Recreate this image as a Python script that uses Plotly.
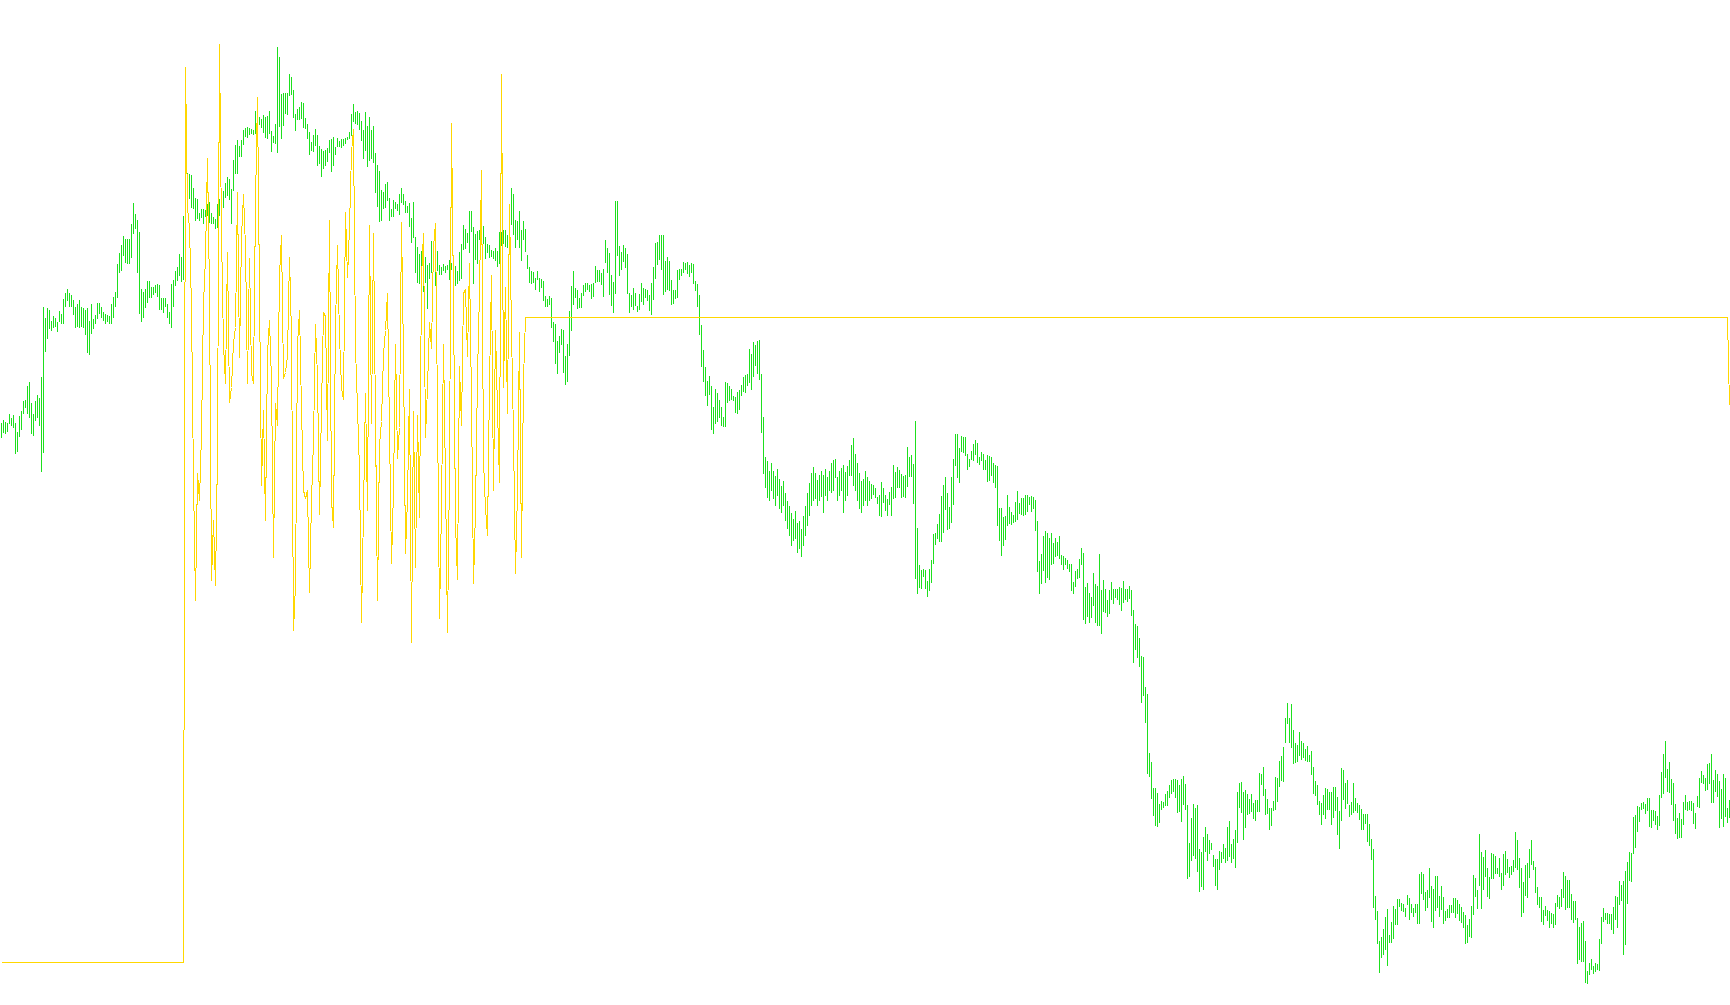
import plotly.graph_objects as go

# Bar highs / lows (arbitrary price units), one entry per bar, left to right
HIGH = [
578,581,579,578,587,583,586,578,569,585,
590,600,601,615,619,598,587,600,606,603,
624,694,683,693,691,680,685,683,679,690,
687,702,708,712,708,706,701,694,697,701,
694,693,691,693,680,697,682,686,698,698,
694,689,687,686,685,697,704,709,737,748,
756,765,762,762,762,777,798,787,781,769,
712,709,712,720,720,714,714,716,717,716,
703,703,703,697,689,717,721,730,734,747,
744,785,827,828,827,826,813,803,802,788,
792,792,791,797,799,788,784,782,797,802,
810,810,818,824,822,812,841,856,861,855,
861,871,873,874,873,872,871,890,894,884,
882,886,884,885,890,870,865,877,954,944,
907,908,908,908,927,924,911,887,892,894,
899,898,883,877,869,859,866,872,866,855,
852,850,851,853,861,862,864,854,863,860,
862,862,863,864,869,887,897,889,890,888,
880,871,889,875,884,871,875,848,836,830,
811,809,817,819,803,792,801,799,797,807,
813,807,800,795,798,783,799,764,754,747,
750,739,744,736,738,760,754,748,750,736,
734,737,735,736,741,738,731,735,730,749,
757,776,772,768,790,790,774,767,770,771,
784,775,764,757,756,751,750,753,750,769,
769,771,771,766,796,813,807,781,780,790,
771,780,772,746,734,730,729,723,730,723,
722,720,705,702,705,703,679,677,660,665,
672,671,645,657,690,715,730,713,711,703,
708,716,718,718,716,717,718,735,731,731,
728,732,761,753,748,726,719,800,800,755,
749,756,753,747,708,706,713,708,695,707,
718,713,712,711,706,718,734,758,759,766,
766,766,740,744,740,721,711,711,731,732,
732,739,738,739,736,738,737,720,717,706,
676,651,634,620,625,615,594,612,608,601,
594,584,619,618,615,612,605,604,609,611,
616,624,626,627,652,647,659,656,660,661,
627,584,544,540,530,538,530,525,532,522,
515,520,508,500,495,488,482,490,478,480,
472,485,495,508,518,528,534,528,521,526,
530,526,532,524,530,538,541,542,524,530,
533,536,529,535,541,556,563,547,538,528,
520,522,530,524,520,517,516,513,504,506,
519,513,506,502,509,514,536,529,534,531,
527,525,526,554,544,546,537,580,473,436,
431,432,431,420,432,441,467,468,477,487,
505,516,524,508,494,524,542,567,567,553,
565,564,564,547,542,550,557,561,558,544,
549,547,541,546,545,544,538,536,535,493,
493,484,485,506,494,489,486,499,510,498,
503,503,506,506,504,505,504,501,480,440,
447,465,470,468,463,468,458,463,459,465,
446,445,443,441,437,437,419,430,432,442,
453,448,414,418,408,404,428,417,415,447,
411,421,412,401,411,419,412,412,412,414,
413,420,412,412,415,411,391,377,375,363,
345,344,314,307,248,239,213,213,208,197,
200,199,207,210,216,221,222,222,221,216,
222,225,217,196,158,183,197,193,196,152,
149,164,174,167,161,158,146,142,142,150,
149,157,153,174,180,157,162,171,209,218,
219,209,211,207,202,207,198,201,201,228,
227,234,212,202,193,193,200,224,223,240,
245,254,283,298,283,297,271,258,256,269,
260,258,252,255,246,250,234,220,216,200,
198,206,213,212,209,209,214,214,204,190,
233,231,218,221,196,199,218,203,198,196,
192,187,187,187,177,162,152,105,90,60,
64,72,84,92,66,79,95,92,102,102,
98,97,93,106,103,97,93,97,97,127,
129,127,109,111,133,115,112,125,125,105,
115,104,90,92,96,96,103,103,101,97,
94,89,86,76,82,95,126,123,111,167,
149,144,151,133,124,148,147,145,133,143,
128,147,150,142,134,135,141,169,161,143,
133,119,136,138,152,161,140,134,114,104,
104,91,95,91,90,88,87,98,106,104,
112,129,125,121,121,107,100,100,83,74,
78,80,60,30,38,42,35,38,37,62,
84,93,88,88,87,87,94,105,104,120,
116,120,130,139,149,148,184,186,195,194,
198,199,197,203,203,191,191,190,185,206,
229,247,260,232,239,222,218,197,183,188,
182,199,206,199,200,200,198,188,205,223,
230,226,223,237,238,247,221,231,227,220,
212,227,223,193,201,
]

LOW = [
563,568,567,569,577,575,573,547,549,564,
571,587,593,587,583,567,565,580,583,575,
529,548,649,662,672,670,673,674,669,679,
677,677,694,700,694,694,686,673,674,673,
674,673,666,648,646,667,672,677,682,687,
683,680,677,679,677,677,683,694,703,728,
730,745,738,737,737,743,767,772,728,687,
679,683,693,698,703,703,706,708,704,691,
691,688,694,683,677,673,694,715,720,725,
719,721,770,803,802,793,792,780,782,780,
783,777,784,785,778,777,777,772,773,785,
790,793,803,805,801,777,810,827,827,844,
844,856,864,863,866,867,866,867,879,876,
873,868,863,862,867,849,858,857,848,874,
862,875,887,886,905,906,883,870,881,881,
882,873,872,862,846,850,849,855,835,837,
824,832,835,839,848,829,835,846,854,854,
853,855,857,861,862,865,879,877,876,871,
860,842,850,834,840,842,838,808,794,779,
780,792,793,800,780,784,784,792,790,786,
798,796,788,788,774,758,763,728,718,717,
720,709,718,692,722,728,730,715,730,726,
726,730,728,731,721,731,715,715,717,720,
722,751,752,758,748,769,717,741,737,761,
763,757,742,748,743,744,742,740,734,737,
755,757,754,753,749,776,766,753,761,753,
740,761,749,732,718,717,718,711,721,709,
713,700,694,694,696,673,659,637,627,648,
656,628,616,619,645,670,696,703,692,693,
693,705,709,711,709,702,704,718,719,719,
716,704,738,728,706,695,688,707,745,725,
731,739,733,707,688,694,691,695,689,691,
699,696,703,700,690,686,701,722,736,741,
731,706,709,711,710,696,697,702,703,721,
725,728,731,727,724,728,717,710,694,666,
634,619,605,595,606,571,567,577,579,583,
575,574,574,598,600,601,600,588,587,591,
605,609,608,615,618,611,624,635,627,621,
568,527,513,503,500,510,502,495,505,492,
488,495,480,472,465,455,460,462,448,452,
444,455,465,475,485,495,500,502,495,500,
504,488,505,500,510,508,510,523,500,505,
510,488,500,505,525,525,515,510,500,492,
488,495,500,495,500,502,506,503,497,485,
484,498,490,485,496,485,502,503,513,513,
503,504,503,514,524,524,497,422,407,413,
412,424,412,404,410,418,437,456,462,459,
459,468,491,471,472,478,496,535,523,518,
549,548,545,531,534,541,540,546,538,536,
540,531,531,519,520,525,518,513,475,460,
445,455,461,475,477,476,478,479,481,487,
486,485,486,489,496,489,492,470,429,407,
417,430,418,423,421,436,437,444,445,442,
436,431,436,432,429,410,407,414,422,423,
436,381,377,384,378,383,395,378,375,375,
367,389,388,384,387,401,397,403,401,396,
390,398,401,399,402,385,338,351,343,334,
298,305,278,227,224,202,185,175,174,178,
191,193,195,195,203,207,209,203,188,189,
179,196,191,122,124,140,145,142,129,109,
114,111,149,140,147,151,134,115,111,131,
138,142,138,140,144,138,142,133,158,193,
188,161,173,186,187,189,182,180,189,189,
216,205,186,187,171,175,190,191,199,214,
220,219,258,277,258,253,237,238,239,245,
241,243,240,239,239,226,207,205,196,186,
176,186,182,191,191,176,183,190,166,152,
180,201,192,197,184,186,188,190,188,181,
171,171,177,159,155,141,93,81,57,28,
43,46,51,35,58,58,62,76,76,94,
90,89,84,96,81,88,84,88,77,77,
107,101,90,93,103,79,73,90,93,84,
91,77,80,83,83,88,88,83,87,80,
78,73,57,58,64,63,86,104,92,115,
92,111,124,104,102,122,122,127,127,124,
111,115,126,128,123,126,129,133,131,113,
84,88,105,103,123,136,131,108,96,93,
79,76,85,80,73,77,73,76,94,92,
94,103,91,93,93,81,78,81,37,41,
39,39,18,17,26,31,27,29,31,30,
57,79,81,77,77,71,67,81,73,96,
100,46,56,97,120,119,147,153,169,179,
191,192,187,190,174,173,180,176,171,175,
203,207,223,209,208,196,180,167,162,163,
163,176,191,190,191,190,177,172,194,193,
218,217,210,211,217,198,198,209,204,173,
182,174,184,178,183,
]

# Indicator line (same units), one value per bar
SIGNAL = [
38,38,38,38,38,38,38,38,38,38,38,38,38,38,38,38,38,38,38,38,
38,38,38,38,38,38,38,38,38,38,38,38,38,38,38,38,38,38,38,38,
38,38,38,38,38,38,38,38,38,38,38,38,38,38,38,38,38,38,38,38,
38,38,38,38,38,38,38,38,38,38,38,38,38,38,38,38,38,38,38,38,
38,38,38,38,38,38,38,38,38,38,38,38,
933,793,773,693,520,400,527,500,
567,697,743,842,710,420,480,415,548,956,
767,655,617,748,598,613,658,673,808,643,
763,806,753,617,742,627,617,798,903,708,
515,590,480,647,680,620,443,597,575,725,
765,622,628,645,743,666,370,415,656,690,
591,510,502,510,408,500,560,676,623,486,
593,688,684,560,780,500,473,676,755,664,
613,601,788,723,773,848,871,652,593,530,
378,490,607,490,775,577,767,581,400,556,
579,646,670,707,571,437,510,656,542,573,
778,644,447,502,611,358,589,433,585,483,
723,767,563,613,678,652,753,777,591,382,
494,656,520,368,530,877,703,477,421,634,
575,707,711,644,737,601,417,490,625,709,
830,540,492,465,617,725,510,670,591,518,
926,613,713,587,796,670,565,427,510,668,
443,621,
683,683,683,683,683,683,683,683,683,683,683,683,683,683,683,683,683,683,683,683,
683,683,683,683,683,683,683,683,683,683,683,683,683,683,683,683,683,683,683,683,
683,683,683,683,683,683,683,683,683,683,683,683,683,683,683,683,683,683,683,683,
683,683,683,683,683,683,683,683,683,683,683,683,683,683,683,683,683,683,683,683,
683,683,683,683,683,683,683,683,683,683,683,683,683,683,683,683,683,683,683,683,
683,683,683,683,683,683,683,683,683,683,683,683,683,683,683,683,683,683,683,683,
683,683,683,683,683,683,683,683,683,683,683,683,683,683,683,683,683,683,683,683,
683,683,683,683,683,683,683,683,683,683,683,683,683,683,683,683,683,683,683,683,
683,683,683,683,683,683,683,683,683,683,683,683,683,683,683,683,683,683,683,683,
683,683,683,683,683,683,683,683,683,683,683,683,683,683,683,683,683,683,683,683,
683,683,683,683,683,683,683,683,683,683,683,683,683,683,683,683,683,683,683,683,
683,683,683,683,683,683,683,683,683,683,683,683,683,683,683,683,683,683,683,683,
683,683,683,683,683,683,683,683,683,683,683,683,683,683,683,683,683,683,683,683,
683,683,683,683,683,683,683,683,683,683,683,683,683,683,683,683,683,683,683,683,
683,683,683,683,683,683,683,683,683,683,683,683,683,683,683,683,683,683,683,683,
683,683,683,683,683,683,683,683,683,683,683,683,683,683,683,683,683,683,683,683,
683,683,683,683,683,683,683,683,683,683,683,683,683,683,683,683,683,683,683,683,
683,683,683,683,683,683,683,683,683,683,683,683,683,683,683,683,683,683,683,683,
683,683,683,683,683,683,683,683,683,683,683,683,683,683,683,683,683,683,683,683,
683,683,683,683,683,683,683,683,683,683,683,683,683,683,683,683,683,683,683,683,
683,683,683,683,683,683,683,683,683,683,683,683,683,683,683,683,683,683,683,683,
683,683,683,683,683,683,683,683,683,683,683,683,683,683,683,683,683,683,683,683,
683,683,683,683,683,683,683,683,683,683,683,683,683,683,683,683,683,683,683,683,
683,683,683,683,683,683,683,683,683,683,683,683,683,683,683,683,683,683,683,683,
683,683,683,683,683,683,683,683,683,683,683,683,683,683,683,683,683,683,683,683,
683,683,683,683,683,683,683,683,683,683,683,683,683,683,683,683,683,683,683,683,
683,683,683,683,683,683,683,683,683,683,683,683,683,683,683,683,683,683,683,683,
683,683,683,683,683,683,683,683,683,683,683,683,683,683,683,683,683,683,683,683,
683,683,683,683,683,683,683,683,683,683,683,683,683,683,683,683,683,683,683,683,
683,683,683,683,683,683,683,683,683,683,683,683,683,683,683,683,683,683,683,683,
683,683,
595,
]

BAR_COLOR = "#1EE01E"
SIGNAL_COLOR = "#FFD700"

n = len(HIGH)
bars_x = list(range(n))

# high-low range segments (one vertical stroke per bar, no open/close ticks)
seg_x, seg_y = [], []
for xi, hi, lo in zip(bars_x, HIGH, LOW):
    seg_x += [xi, xi, None]
    seg_y += [lo, hi, None]

fig = go.Figure()
fig.add_trace(go.Scatter(
    x=seg_x, y=seg_y, mode="lines",
    line=dict(color=BAR_COLOR, width=1),
    hoverinfo="skip", showlegend=False,
))
fig.add_trace(go.Scatter(
    x=list(range(len(SIGNAL))), y=SIGNAL, mode="lines",
    line=dict(color=SIGNAL_COLOR, width=1, simplify=False),
    hoverinfo="skip", showlegend=False,
))

fig.update_layout(
    width=1730, height=1005,
    margin=dict(l=0, r=0, t=0, b=0, pad=0),
    paper_bgcolor="white", plot_bgcolor="white",
    showlegend=False,
    xaxis=dict(visible=False, range=[-0.75, n - 0.75], fixedrange=True),
    yaxis=dict(visible=False, range=[-4.5, 1000.5], fixedrange=True),
)

fig.write_html(
    "out.html",
    config={"displayModeBar": False, "staticPlot": True, "responsive": False},
    post_script=(
        "var st=document.createElement('style');"
        "st.textContent='html,body{margin:0;padding:0;overflow:hidden;}"
        " path.js-line{shape-rendering:crispEdges !important;}';"
        "document.head.appendChild(st);"
    ),
)
